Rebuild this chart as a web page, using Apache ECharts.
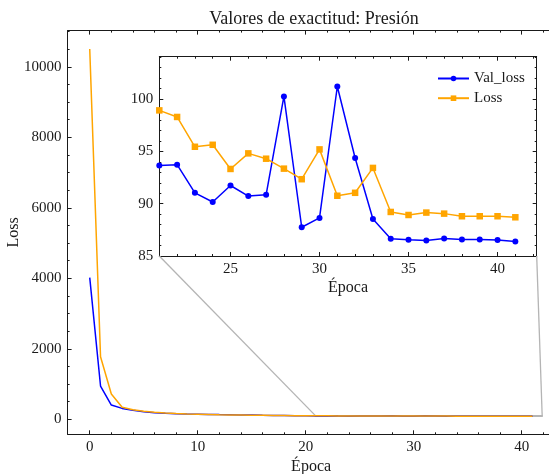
<!DOCTYPE html>
<html>
<head>
<meta charset="utf-8">
<script src="https://cdn.jsdelivr.net/npm/echarts@6/dist/echarts.min.js"></script>
<style>html,body{margin:0;padding:0;background:#fff}#c{width:549px;height:474px}</style>
</head>
<body>
<div id="c"></div>
<script>
// ---- data ----
var epochs = [0,1,2,3,4,5,6,7,8,9,10,11,12,13,14,15,16,17,18,19,20,21,22,23,24,25,26,27,28,29,30,31,32,33,34,35,36,37,38,39,40,41];
var valLoss = [4020,945,405,310,255,215,188,172,160,152,146,140,134,129,124,119,114,110,106,102,99,
  93.64,93.73,91.04,90.16,91.74,90.73,90.85,100.25,87.75,88.64,101.2,94.37,88.54,86.65,86.55,86.49,86.68,86.58,86.58,86.52,86.39];
var trainLoss = [10506,1775,718,340,270,226,198,178,163,152,144,137,131,126,121,116,112,108,105,102,100,
  98.92,98.29,95.44,95.63,93.32,94.81,94.30,93.35,92.34,95.19,90.76,91.04,93.42,89.21,88.92,89.15,89.05,88.80,88.80,88.80,88.70];
var insetStart = 21;
var mainXTicks = [0,10,20,30,40];
var mainXMinor = [2,4,6,8,12,14,16,18,22,24,26,28,32,34,36,38,42];
var mainYTicks = [0,2000,4000,6000,8000,10000];
var mainYMinor = [500,1000,1500,2500,3000,3500,4500,5000,5500,6500,7000,7500,8500,9000,9500,10500,11000];
var insetXTicks = [25,30,35,40];
var insetXMinor = [22,23,24,26,27,28,29,31,32,33,34,36,37,38,39,41,42];
var insetYTicks = [85,90,95,100];
var insetYMinor = [86,87,88,89,91,92,93,94,96,97,98,99,101,102,103,104];
var mainX = [-2.05, 43.05], mainY = [-425, 11027];
var insetX = [21.0, 42.2], insetY = [85, 104.05];
var zoomBox = [[20.9, 85], [41.9, 104]];
var seriesNames = ['Val_loss', 'Loss'];

// ---- styling ----
var FONT = 'Liberation Serif';
var INK = '#1a1a1a';
var GRAY = '#b4b4b4';

function axis(dim, grid, pos, range, ticks, len, showLine, labels, name, nameGap) {
  var a = {
    type: 'value', gridIndex: grid, position: pos, min: range[0], max: range[1],
    splitLine: {show: false},
    axisLine: {show: showLine, onZero: false, lineStyle: {color: INK, width: 1}},
    axisTick: {show: true, inside: true, length: len, customValues: ticks, lineStyle: {color: INK, width: 1}},
    axisLabel: labels ? {show: true, customValues: ticks, fontFamily: FONT, fontSize: 15, color: INK,
      margin: dim === 'x' ? 5.5 : 6, formatter: function (v) { return String(v); }} : {show: false}
  };
  if (name) {
    a.name = name; a.nameLocation = 'middle'; a.nameGap = nameGap; a.nameMoveOverlap = false;
    a.nameTextStyle = {fontFamily: FONT, fontSize: 16, color: INK};
  }
  return a;
}

var xAxes = [
  axis('x', 0, 'bottom', mainX, mainXTicks, 4, true, true, 'Época', 24),
  axis('x', 0, 'bottom', mainX, mainXMinor, 2, false, false),
  axis('x', 0, 'top', mainX, mainXTicks, 4, true, false),
  axis('x', 0, 'top', mainX, mainXMinor, 2, false, false),
  axis('x', 1, 'bottom', insetX, insetXTicks, 4, true, true, 'Época', 24),
  axis('x', 1, 'bottom', insetX, insetXMinor, 2, false, false),
  axis('x', 1, 'top', insetX, insetXTicks, 4, true, false),
  axis('x', 1, 'top', insetX, insetXMinor, 2, false, false)
];
var yAxes = [
  axis('y', 0, 'left', mainY, mainYTicks, 4, true, true, 'Loss', 46),
  axis('y', 0, 'left', mainY, mainYMinor, 2, false, false),
  axis('y', 0, 'right', mainY, mainYTicks, 4, true, false),
  axis('y', 0, 'right', mainY, mainYMinor, 2, false, false),
  axis('y', 1, 'left', insetY, insetYTicks, 4, true, true),
  axis('y', 1, 'left', insetY, insetYMinor, 2, false, false),
  axis('y', 1, 'right', insetY, insetYTicks, 4, true, false),
  axis('y', 1, 'right', insetY, insetYMinor, 2, false, false)
];

function pairs(xs, ys, from) {
  var out = [];
  for (var i = 0; i < xs.length; i++) if (xs[i] >= from) out.push([xs[i], ys[i]]);
  return out;
}

var chart = echarts.init(document.getElementById('c'), null, {renderer: 'canvas'});
chart.setOption({
  animation: false,
  backgroundColor: '#fff',
  title: {
    text: 'Valores de exactitud: Presión', left: 309, top: 5, textAlign: 'center',
    textStyle: {fontFamily: FONT, fontSize: 18, fontWeight: 'normal', color: INK}
  },
  legend: {
    data: seriesNames, orient: 'vertical', left: 432, top: 66, itemWidth: 31, itemHeight: 7, itemGap: 4.7,
    textStyle: {fontFamily: FONT, fontSize: 15, color: INK}
  },
  grid: [
    {left: 67.6, right: -5.6, top: 30.6, bottom: 39.7, outerBoundsMode: 'none', containLabel: false},
    {left: 159.3, right: 12.3, top: 56.7, bottom: 218, outerBoundsMode: 'none', containLabel: false,
      show: true, backgroundColor: '#fff', borderWidth: 0}
  ],
  xAxis: xAxes,
  yAxis: yAxes,
  series: [
    {name: 'Val_loss (todas)', type: 'line', xAxisIndex: 0, yAxisIndex: 0, data: pairs(epochs, valLoss, 0),
      showSymbol: false, symbol: 'none', lineStyle: {color: '#0000ff', width: 1.5}, itemStyle: {color: '#0000ff'},
      markArea: {silent: true, itemStyle: {color: 'rgba(0,0,0,0)', borderColor: GRAY, borderWidth: 1.3},
        data: [[{coord: zoomBox[0]}, {coord: zoomBox[1]}]]}},
    {name: 'Loss (todas)', type: 'line', xAxisIndex: 0, yAxisIndex: 0, data: pairs(epochs, trainLoss, 0),
      showSymbol: false, symbol: 'none', lineStyle: {color: '#ffa500', width: 1.5}, itemStyle: {color: '#ffa500'}},
    {name: seriesNames[0], type: 'line', xAxisIndex: 4, yAxisIndex: 4, data: pairs(epochs, valLoss, insetStart),
      symbol: 'circle', symbolSize: 6, lineStyle: {color: '#0000ff', width: 1.5}, itemStyle: {color: '#0000ff'}},
    {name: seriesNames[1], type: 'line', xAxisIndex: 4, yAxisIndex: 4, data: pairs(epochs, trainLoss, insetStart),
      symbol: 'rect', symbolSize: 6.5, lineStyle: {color: '#ffa500', width: 1.5}, itemStyle: {color: '#ffa500'}}
  ]
});

// connector lines from inset corners to the zoom box (through the library's scales)
var bl = chart.convertToPixel({seriesIndex: 2}, [insetX[0], insetY[0]]);
var br = chart.convertToPixel({seriesIndex: 2}, [insetX[1], insetY[0]]);
var tl = chart.convertToPixel({seriesIndex: 0}, [zoomBox[0][0], zoomBox[1][1]]);
var tr = chart.convertToPixel({seriesIndex: 0}, [zoomBox[1][0], zoomBox[1][1]]);
chart.setOption({
  graphic: [
    {type: 'line', shape: {x1: bl[0], y1: bl[1], x2: tl[0], y2: tl[1]}, style: {stroke: GRAY, lineWidth: 1.3}, z: 1},
    {type: 'line', shape: {x1: br[0], y1: br[1], x2: tr[0], y2: tr[1]}, style: {stroke: GRAY, lineWidth: 1.3}, z: 1}
  ]
});
</script>
</body>
</html>
